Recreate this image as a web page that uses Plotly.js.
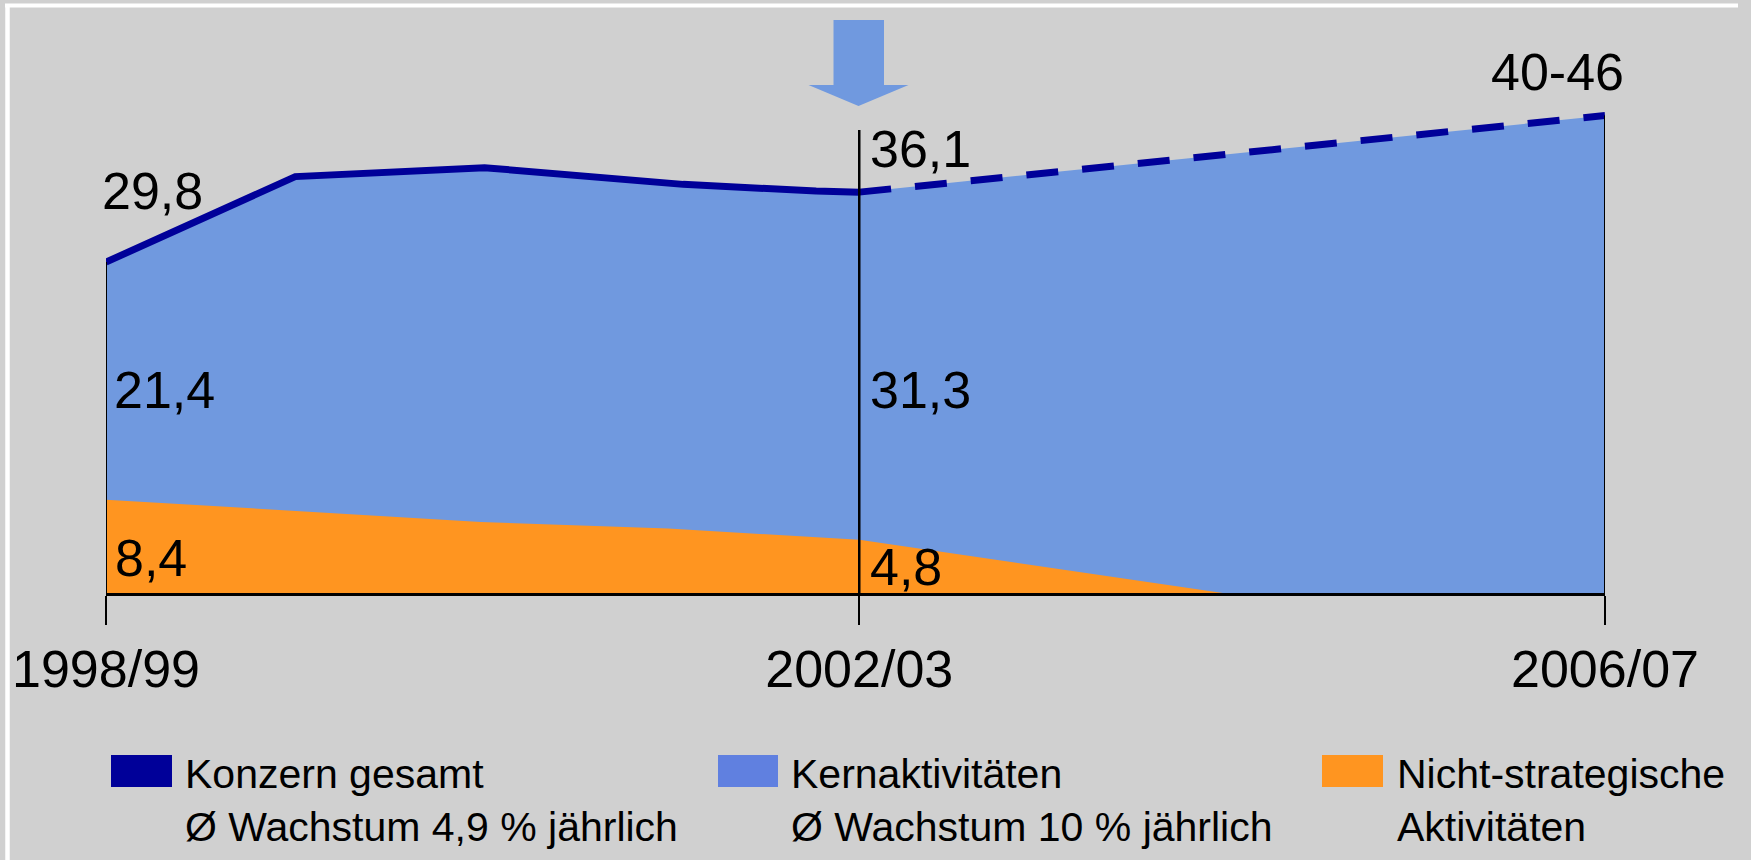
<!DOCTYPE html>
<html>
<head>
<meta charset="utf-8">
<script src="https://cdn.plot.ly/plotly-3.0.1.min.js"></script>
<style>
  html, body { margin: 0; padding: 0; background: #d0d0d0; }
  #chart { width: 1751px; height: 860px; }
</style>
</head>
<body>
<div id="chart"></div>
<script>
// ---------- DATA ----------
const periodLabels = ['1998/99', '2002/03', '2006/07'];
const periodPos = [0, 4.02, 8];

// Konzern gesamt (actual, solid line)
const totalX = [0, 1.01, 2.02, 3.08, 3.79, 4.02];
const totalY = [29.8, 37.5, 38.3, 36.8, 36.2, 36.1];

// Konzern gesamt (target, dashed line)
const targetX = [4.02, 8];
const targetY = [36.1, 43];
const targetRange = [40, 46];

// Nicht-strategische Aktivitäten
const nonStratX = [0, 1, 2, 3, 4.02, 5.96];
const nonStratY = [8.4, 7.4, 6.4, 5.8, 4.8, 0];

// Kernaktivitäten (labelled values)
const coreX = [0, 4.02];
const coreY = [21.4, 31.3];

// Legend
const legendNames = ['Konzern gesamt', 'Kernaktivitäten', 'Nicht-strategische'];
const legendSub = ['Ø Wachstum 4,9 % jährlich', 'Ø Wachstum 10 % jährlich', 'Aktivitäten'];

// ---------- STYLE ----------
const C = {
  bg: '#d0d0d0',
  blue: '#7099df',
  blueLegend: '#6080e0',
  navy: '#000099',
  orange: '#ff9520',
  black: '#000000'
};
const FONT = 'Liberation Sans, Arial, sans-serif';
const W = 1751, H = 860;
const M = { l: 106, r: 146, t: 60, b: 267 };
const pw = W - M.l - M.r, ph = H - M.t - M.b;
const px = v => (v - M.l) / pw;
const py = v => (H - M.b - v) / ph;
const fmt = v => v.toFixed(1).replace('.', ',');

// combined outline for the blue fill (actual + target)
const fillX = totalX.concat(targetX.slice(1));
const fillY = totalY.concat(targetY.slice(1));

const traces = [
  { x: fillX, y: fillY, type: 'scatter', mode: 'lines', fill: 'tozeroy',
    fillcolor: C.blue, line: { width: 0, color: C.blue }, hoverinfo: 'skip', showlegend: false },
  { x: nonStratX, y: nonStratY, type: 'scatter', mode: 'lines', fill: 'tozeroy',
    fillcolor: C.orange, line: { width: 0, color: C.orange }, hoverinfo: 'skip', showlegend: false },
  { x: totalX, y: totalY, type: 'scatter', mode: 'lines',
    line: { width: 7, color: C.navy }, hoverinfo: 'skip', showlegend: false },
  { x: targetX, y: targetY, type: 'scatter', mode: 'lines',
    line: { width: 7, color: C.navy, dash: '32px,24px' }, hoverinfo: 'skip', showlegend: false }
];

const shapes = [
  // vertical reference lines
  { type: 'line', xref: 'x', yref: 'y', x0: periodPos[0], x1: periodPos[0], y0: 0, y1: totalY[0],
    line: { color: C.black, width: 2 } },
  { type: 'line', xref: 'x', yref: 'paper', x0: periodPos[1], x1: periodPos[1], y0: 0, y1: py(130),
    line: { color: C.black, width: 2.5 } },
  { type: 'line', xref: 'x', yref: 'y', x0: periodPos[2], x1: periodPos[2], y0: 0, y1: targetY[1],
    line: { color: C.black, width: 2 } },
  // arrow
  { type: 'path', xref: 'paper', yref: 'paper',
    path: `M ${px(833.5)} ${py(20)} L ${px(884)} ${py(20)} L ${px(884)} ${py(85)} L ${px(908.5)} ${py(85)} ` +
          `L ${px(858.5)} ${py(106)} L ${px(808.5)} ${py(85)} L ${px(833.5)} ${py(85)} Z`,
    fillcolor: C.blue, line: { width: 0 } },
  // white frame
  { type: 'line', xref: 'paper', yref: 'paper', x0: px(5), x1: px(1738), y0: py(5.5), y1: py(5.5),
    line: { color: '#ffffff', width: 4 } },
  { type: 'line', xref: 'paper', yref: 'paper', x0: px(7.5), x1: px(7.5), y0: py(4), y1: py(860),
    line: { color: '#ffffff', width: 4.5 } },
  // legend swatches
  { type: 'rect', xref: 'paper', yref: 'paper', x0: px(111), x1: px(172), y0: py(755), y1: py(787),
    fillcolor: C.navy, line: { width: 0 } },
  { type: 'rect', xref: 'paper', yref: 'paper', x0: px(718), x1: px(778), y0: py(755), y1: py(787),
    fillcolor: C.blueLegend, line: { width: 0 } },
  { type: 'rect', xref: 'paper', yref: 'paper', x0: px(1322), x1: px(1383), y0: py(755), y1: py(787),
    fillcolor: C.orange, line: { width: 0 } }
];

const numFont = { family: FONT, size: 52, color: C.black };
const lab = (text, left, cy) => ({
  text: text, xref: 'paper', yref: 'paper', x: px(left - 5), y: py(cy),
  xanchor: 'left', yanchor: 'middle', showarrow: false, font: numFont
});

const annotations = [
  lab(fmt(totalY[0]), 105, 191),
  lab(fmt(targetY[0]), 873, 149),
  lab(targetRange[0] + '-' + targetRange[1], 1494, 72),
  lab(fmt(coreY[0]), 117, 390),
  lab(fmt(coreY[1]), 873, 390),
  lab(fmt(nonStratY[0]), 118, 558),
  lab(fmt(nonStratY[4]), 873, 567)
];

const legX = [186, 792, 1398];
for (let i = 0; i < 3; i++) {
  annotations.push({
    text: legendNames[i] + '<br>' + legendSub[i], xref: 'paper', yref: 'paper',
    x: px(legX[i] - 3), y: py(749), xanchor: 'left', yanchor: 'top', align: 'left',
    showarrow: false, font: { family: FONT, size: 41, color: C.black }
  });
}

const layout = {
  width: W, height: H,
  margin: M,
  paper_bgcolor: C.bg, plot_bgcolor: C.bg,
  showlegend: false,
  xaxis: {
    range: [0, 8], tickvals: periodPos, ticktext: periodLabels,
    showgrid: false, zeroline: false, showline: true, linecolor: C.black, linewidth: 3,
    ticks: 'outside', ticklen: 29, tickwidth: 2, tickcolor: C.black,
    tickfont: { family: FONT, size: 52, color: C.black }, fixedrange: true
  },
  yaxis: {
    range: [0, 48], showgrid: false, zeroline: false, showline: false,
    showticklabels: false, ticks: '', fixedrange: true
  },
  shapes: shapes,
  annotations: annotations
};

Plotly.newPlot('chart', traces, layout, { displayModeBar: false, staticPlot: true });
</script>
</body>
</html>
